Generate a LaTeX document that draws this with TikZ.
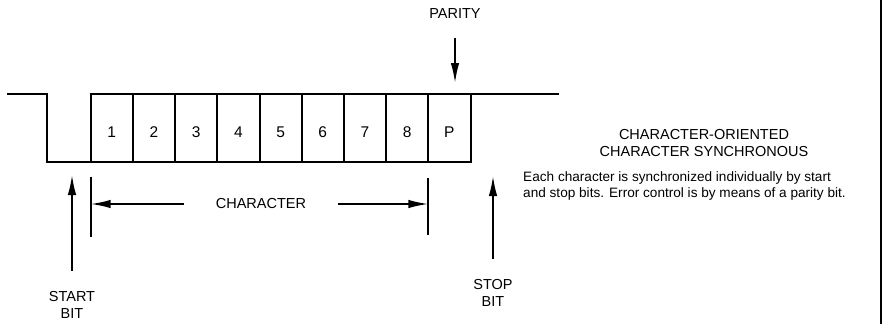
\documentclass[tikz,border=0pt]{standalone}
\usepackage{fontspec}
\setmainfont{Liberation Sans}
\usetikzlibrary{arrows.meta,calc}

\begin{document}
\begin{tikzpicture}[x=1pt,y=-1pt,
  cell/.style={draw,rectangle,line width=2pt,minimum width=42.2pt,minimum height=68pt,
    outer sep=0pt,text height=19.5pt,text depth=0pt,font=\fontsize{15.5}{18}\selectfont},
  wave/.style={line width=2pt,line join=miter},
  tag/.style={align=center,font=\fontsize{14.5}{17.5}\selectfont},
  arrow/.style={-{Latex[length=20pt,width=8.5pt]},line width=1.8pt},
  bar/.style={line width=2pt},
]
  \useasboundingbox (0,0) rectangle (885,324);

  % bit cells
  \foreach \lab [count=\i] in {1,2,3,4,5,6,7,8,P}
    \node[cell] (b\i) at ({90.7+(\i-0.5)*42.2},128) {\lab};
  \draw[wave] (7,94) -- (47,94) -- (47,162) -- (b1.south west);
  \draw[wave] (b9.north east) -- (559,94);

  % parity
  \node[tag] (parity) at (455,14) {PARITY};
  \draw[arrow,shorten <=15pt,shorten >=11pt] (parity) -- (parity |- b9.north);

  % start and stop bits
  \node[tag,inner ysep=20pt] (start) at (72,305) {START\\BIT};
  \coordinate (starttip) at (72,175);
  \draw[arrow] (start) -- (starttip);
  \node[tag,inner ysep=20pt] (stop) at (493,293) {STOP\\BIT};
  \coordinate (stoptip) at (493,176);
  \draw[arrow] (stop) -- (stoptip);

  % character span
  \node[tag,inner xsep=31.5pt] (char) at (261,204) {CHARACTER};
  \draw[bar] ([yshift=-14.7pt]b1.south west) -- ([yshift=-75.3pt]b1.south west);
  \draw[bar] ([yshift=-16pt]b8.south east) -- ([yshift=-73pt]b8.south east);
  \draw[arrow] (char) -- (char -| b1.west);
  \draw[arrow] (char) -- (char -| b8.east);

  % description
  \node[tag] (title) at (704,143) {CHARACTER-ORIENTED\\CHARACTER SYNCHRONOUS};
  \node[font=\fontsize{13.6}{16.6}\selectfont,align=left,anchor=west] (note) at (519.7,186)
    {Each character is synchronized individually by start\\
     and stop bits. Error control is by means of a parity bit.};
  \draw[bar] (881,0) -- (881,324);
\end{tikzpicture}
\end{document}
